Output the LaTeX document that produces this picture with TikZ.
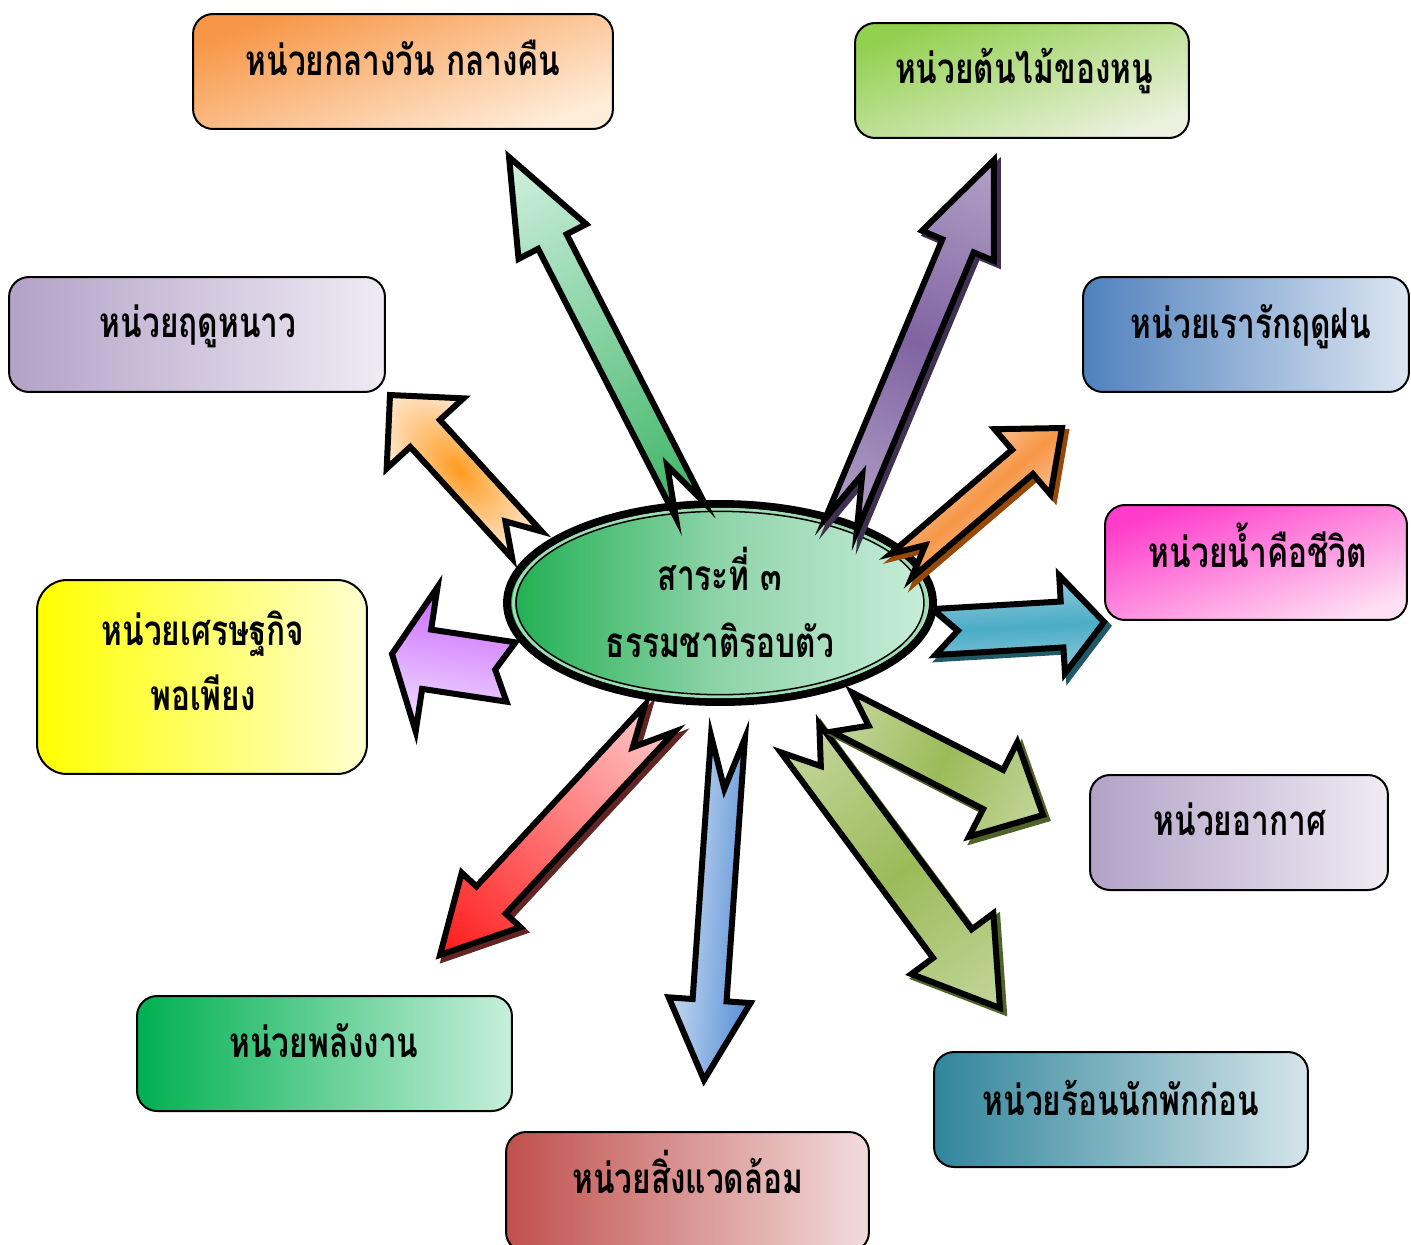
\documentclass[tikz,border=0pt]{standalone}
\usepackage{fontspec}
\newfontfamily\thaifont[Script=Thai,FakeStretch=0.75]{Loma}
\usetikzlibrary{shapes.geometric}
\definecolor{grA}{HTML}{3CB464}\definecolor{grB}{HTML}{D0F0E0}
\definecolor{puL}{HTML}{B3A2C7}\definecolor{puD}{HTML}{8064A2}\definecolor{puS}{HTML}{3F3151}
\definecolor{orC}{HTML}{FF9A1E}\definecolor{orP}{HTML}{FFE8D0}
\definecolor{orL}{HTML}{FAC090}\definecolor{orM}{HTML}{F79646}\definecolor{orS}{HTML}{984807}
\definecolor{tlL}{HTML}{93CDDD}\definecolor{tlM}{HTML}{4BACC6}\definecolor{tlS}{HTML}{215968}
\definecolor{olL}{HTML}{C3D69B}\definecolor{olM}{HTML}{9BBB59}\definecolor{olS}{HTML}{4F6228}
\definecolor{blD}{HTML}{558ED5}\definecolor{blL}{HTML}{C6D9F1}
\definecolor{rdL}{HTML}{FFC8C8}\definecolor{rdD}{HTML}{FF1A1A}\definecolor{rdS}{HTML}{632523}
\definecolor{vlL}{HTML}{F2E6FF}\definecolor{vlD}{HTML}{CC66FF}
\definecolor{elL}{HTML}{1FAF50}\definecolor{elM}{HTML}{8FD4A9}\definecolor{elR}{HTML}{C8EEDA}\definecolor{elG}{HTML}{9EDCB4}
\makeatletter
\def\ba@geom#1,#2,#3,#4\@nil{\def\ba@w{#1}\def\ba@h{#2}\def\ba@a{#3}\def\ba@n{#4}}
\def\ba@pt#1,#2\@nil#3#4{\def#3{#1}\def#4{#2}}
\newcommand\barrow[5]{%
  \ba@pt#3\@nil\ba@tx\ba@ty
  \ba@pt#4\@nil\ba@px\ba@py
  \ba@geom#5\@nil
  \pgfmathsetmacro\ba@dx{\ba@px-\ba@tx}%
  \pgfmathsetmacro\ba@dy{\ba@py-\ba@ty}%
  \pgfmathsetmacro\ba@L{veclen(\ba@dx,\ba@dy)}%
  \pgfmathsetmacro\ba@ang{atan2(-\ba@dy,\ba@dx)}%
  \pgfmathsetmacro\ba@b{\ba@L-\ba@a}%
  \ifx\relax#2\relax\else
  \begin{scope}[transform canvas={shift={(\ba@tx+4,\ba@ty+4)},rotate=\ba@ang}]
    \path[arrowline,draw=#2,fill=#2] (0,\ba@w) -- (\ba@b,\ba@w) -- (\ba@b,\ba@h) -- (\ba@L,0) -- (\ba@b,-\ba@h) -- (\ba@b,-\ba@w) -- (0,-\ba@w) -- (\ba@n,0) -- cycle;
  \end{scope}
  \fi
  \begin{scope}[transform canvas={shift={(\ba@tx,\ba@ty)},rotate=\ba@ang}]
    \path[arrowline,#1] (0,\ba@w) -- (\ba@b,\ba@w) -- (\ba@b,\ba@h) -- (\ba@L,0) -- (\ba@b,-\ba@h) -- (\ba@b,-\ba@w) -- (0,-\ba@w) -- (\ba@n,0) -- cycle;
  \end{scope}
}
\makeatother
\begin{document}
\begin{tikzpicture}[x=0.02cm,y=-0.02cm,
  arrowline/.style={draw=black,line width=0.12cm,line join=miter},
  box/.style={draw=black,line width=0.04cm,rounded corners=0.4cm,inner sep=0,minimum height=2.3cm},
  lbl/.style={font=\thaifont\bfseries\fontsize{24}{28}\selectfont,anchor=base,inner sep=0}]
\useasboundingbox (0,0) rectangle (1411,1245);
\clip (0,0) rectangle (1411,1245);
% boxes
\node[box,minimum width=8.4cm,top color=orM,bottom color=orP!80!white,shading angle=20] (b1) at (403,71.5) {};
\node[box,minimum width=6.68cm,top color={rgb,255:red,146;green,208;blue,80},bottom color={rgb,255:red,235;green,241;blue,222},shading angle=20] (b2) at (1022,80.5) {};
\node[box,minimum width=7.52cm,left color=puL,right color={rgb,255:red,239;green,235;blue,244}] (b3) at (197,334.5) {};
\node[box,minimum width=6.52cm,left color={rgb,255:red,79;green,129;blue,189},right color={rgb,255:red,220;green,230;blue,242}] (b4) at (1246,334.5) {};
\node[box,minimum width=6.04cm,top color={rgb,255:red,255;green,60;blue,203},bottom color={rgb,255:red,255;green,221;blue,243},shading angle=20] (b5) at (1256,562.5) {};
\node[box,minimum width=6.6cm,minimum height=3.88cm,rounded corners=0.6cm,left color={rgb,255:red,255;green,255;blue,0},right color={rgb,255:red,255;green,255;blue,208}] (b6) at (202,677) {};
\node[box,minimum width=5.96cm,left color=puL,right color={rgb,255:red,239;green,235;blue,244}] (b7) at (1239,832.5) {};
\node[box,minimum width=7.5cm,left color={rgb,255:red,0;green,176;blue,80},right color={rgb,255:red,198;green,239;blue,218}] (b8) at (324.5,1053.5) {};
\node[box,minimum width=7.48cm,left color={rgb,255:red,49;green,133;blue,156},right color={rgb,255:red,213;green,229;blue,234}] (b9) at (1121,1109.5) {};
\node[box,minimum width=7.26cm,minimum height=2.4cm,left color={rgb,255:red,192;green,80;blue,77},right color={rgb,255:red,242;green,220;blue,219}] (b10) at (687.5,1192) {};
% labels
\node[lbl] (t1) at (403,75) {หน่วยกลางวัน กลางคืน};
\node[lbl] (t2) at (1024,83) {หน่วยต้นไม้ของหนู};
\node[lbl] (t3) at (198,337) {หน่วยฤดูหนาว};
\node[lbl] (t4) at (1251,338) {หน่วยเรารักฤดูฝน};
\node[lbl] (t5) at (1258,567) {หน่วยน้ำคือชีวิต};
\node[lbl] (t6a) at (203,645) {หน่วยเศรษฐกิจ};
\node[lbl] (t6b) at (203,710) {พอเพียง};
\node[lbl] (t7) at (1240,835) {หน่วยอากาศ};
\node[lbl] (t8) at (324,1057) {หน่วยพลังงาน};
\node[lbl] (t9) at (1121,1115) {หน่วยร้อนนักพักก่อน};
\node[lbl] (t10) at (688,1193) {หน่วยสิ่งแวดล้อม};
% arrows under the ellipse
\barrow{left color=olL,right color=olL,middle color=olM}{olS}{800,738}{1000,1008}{24,51,80,35}
\barrow{left color=olL,right color=olL,middle color=olM}{olS}{842,712}{1043,815}{22,53,56,30}
\barrow{top color=blD,bottom color=blL}{}{728,737}{704,1080}{17,41,80,52}
\barrow{left color=rdL,right color=rdD}{rdS}{660,718}{440,955}{20,40,75,40}
\barrow{top color=vlL,bottom color=vlD}{}{511,672}{392,654}{30,73,35,16}
\barrow{inner color=orC,outer color=orP}{}{527,545}{390,395}{20,52,52,32}
\barrow{top color=tlL,bottom color=tlL,middle color=tlM}{tlS}{934,632}{1104,622}{23,49,42,24}
% centre ellipse
\node[ellipse,draw=black,line width=0.16cm,minimum width=8.52cm,minimum height=3.96cm,inner sep=0,left color=elL,right color=elR,middle color=elM] (c) at (720,603) {};
\draw[elG,line width=0.06cm] (c.center) ellipse [x radius=4.13cm,y radius=1.874cm];
\draw[black,line width=0.03cm] (c.center) ellipse [x radius=4.08cm,y radius=1.834cm];
\node[lbl] (c1) at (720,590) {สาระที่ ๓};
\node[lbl] (c2) at (720,657) {ธรรมชาติรอบตัว};
% arrows over the ellipse
\barrow{left color=grA,right color=grB}{}{690,510}{509,157}{16,38,95,50}
\barrow{left color=puL,right color=puL,middle color=puD}{puS}{841,525}{994,160}{17,39,93,55}
\barrow{top color=orL,bottom color=orL,middle color=orM}{orS}{901,566}{1062,428}{16,43,52,32}
\end{tikzpicture}
\end{document}
